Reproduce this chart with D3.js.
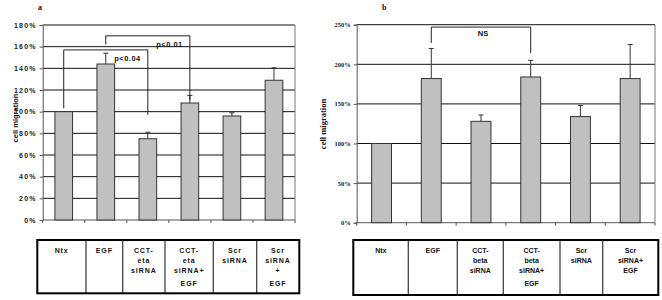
<!DOCTYPE html>
<html>
<head>
<meta charset="utf-8">
<script src="https://cdn.jsdelivr.net/npm/d3@7/dist/d3.min.js"></script>
<style>
  body { margin: 0; background: #fff; }
  svg { display: block; }
</style>
</head>
<body>
<svg id="chart" width="662" height="300"></svg>
<script>
// panel a data
const labelsA = [['Ntx'], ['EGF'], ['CCT-', 'eta', 'siRNA'], ['CCT-', 'eta', 'siRNA+', 'EGF'], ['Scr', 'siRNA'], ['Scr', 'siRNA', '+', 'EGF']];
const valuesA = [100, 144, 75, 108, 96, 129];
const errorsA = [0, 10, 6, 7, 3, 11.5];
const ticksA = [0, 20, 40, 60, 80, 100, 120, 140, 160, 180];
const bracketsA = [
  { from: 0, to: 2, top: 157, left: 103, right: 97, label: 'p<0.04' },
  { from: 1, to: 3, top: 170, left: 162, right: 111, label: 'p<0.01' }
];

// panel b data
const labelsB = [['Ntx'], ['EGF'], ['CCT-', 'beta', 'siRNA'], ['CCT-', 'beta', 'siRNA+', 'EGF'], ['Scr', 'siRNA'], ['Scr', 'siRNA+', 'EGF']];
const valuesB = [100, 182, 128, 184, 134, 182];
const errorsB = [0, 38, 8, 21, 14, 43];
const ticksB = [0, 50, 100, 150, 200, 250];
const bracketsB = [
  { from: 1, to: 3, top: 247, left: 227, right: 214, label: 'NS' }
];

const svg = d3.select('#chart');

function drawPanel(cfg) {
  const { labels, values, errors, ticks, brackets, lay } = cfg;
  const n = values.length;

  const x = d3.scaleBand()
    .domain(d3.range(n))
    .range([lay.left, lay.right]);
  const y = d3.scaleLinear()
    .domain([0, d3.max(ticks)])
    .range([lay.bottom, lay.top]);

  const g = svg.append('g');

  // gridlines
  g.selectAll('.grid')
    .data(ticks.filter(t => t > 0))
    .enter()
    .append('line')
    .attr('x1', lay.left).attr('x2', lay.right)
    .attr('y1', d => y(d)).attr('y2', d => y(d))
    .attr('stroke', '#111')
    .attr('stroke-width', 1);

  // right border
  g.append('line')
    .attr('x1', lay.right).attr('x2', lay.right)
    .attr('y1', lay.top).attr('y2', lay.bottom)
    .attr('stroke', '#777');

  // y axis
  const yAxis = g.append('g')
    .attr('transform', `translate(${lay.left},0)`)
    .call(d3.axisLeft(y).tickValues(ticks).tickSize(3).tickPadding(3).tickFormat(d => d + '%'));
  yAxis.select('.domain').attr('stroke', '#555');
  yAxis.selectAll('.tick line').attr('stroke', '#555');
  yAxis.selectAll('.tick text')
    .attr('fill', '#222')
    .style('font-family', lay.tickFont)
    .style('font-size', lay.tickSize)
    .style('font-weight', 'bold')
    .style('letter-spacing', lay.tickSpacing);

  // x axis (boundary ticks)
  g.append('line')
    .attr('x1', lay.left).attr('x2', lay.right)
    .attr('y1', lay.bottom).attr('y2', lay.bottom)
    .attr('stroke', '#555');
  g.selectAll('.xtick')
    .data(d3.range(n + 1))
    .enter()
    .append('line')
    .attr('x1', i => lay.left + i * x.step())
    .attr('x2', i => lay.left + i * x.step())
    .attr('y1', lay.bottom).attr('y2', lay.bottom + 3)
    .attr('stroke', '#555');

  const bw = x.bandwidth() * lay.barFrac;
  const cx = i => x(i) + x.bandwidth() / 2;

  // error bars (upper half only)
  const errs = values.map((v, i) => ({ v, e: errors[i], i })).filter(d => d.e > 0);
  g.selectAll('.err-stem')
    .data(errs)
    .enter()
    .append('line')
    .attr('x1', d => cx(d.i)).attr('x2', d => cx(d.i))
    .attr('y1', d => y(d.v)).attr('y2', d => y(d.v + d.e))
    .attr('stroke', '#333');
  g.selectAll('.err-cap')
    .data(errs)
    .enter()
    .append('line')
    .attr('x1', d => cx(d.i) - 2.5).attr('x2', d => cx(d.i) + 2.5)
    .attr('y1', d => y(d.v + d.e)).attr('y2', d => y(d.v + d.e))
    .attr('stroke', '#333');

  // bars
  g.selectAll('.bar')
    .data(values)
    .enter()
    .append('rect')
    .attr('x', (d, i) => cx(i) - bw / 2)
    .attr('y', d => y(d))
    .attr('width', bw)
    .attr('height', d => y(0) - y(d))
    .attr('fill', '#c0c0c0')
    .attr('stroke', '#333')
    .attr('stroke-width', 1);

  // brackets
  brackets.forEach(b => {
    const x1 = cx(b.from), x2 = cx(b.to);
    g.append('path')
      .attr('d', `M${x1},${y(b.left)}V${y(b.top)}H${x2}V${y(b.right)}`)
      .attr('fill', 'none')
      .attr('stroke', '#222')
      .attr('stroke-width', 1);
    g.append('text')
      .attr('x', x1 + (x2 - x1) * lay.bracketLabelAt)
      .attr('y', y(b.top) + lay.bracketLabelDy)
      .attr('text-anchor', lay.bracketAnchor)
      .style('font-family', 'Arial, "Liberation Sans", sans-serif')
      .style('font-size', '7.5px')
      .style('font-weight', 'bold')
      .style('letter-spacing', lay.bracketSpacing)
      .attr('fill', '#111')
      .text(b.label);
  });

  // y label
  g.append('text')
    .attr('transform', `translate(${lay.ylabelX},${lay.ylabelY}) rotate(-90)`)
    .attr('text-anchor', 'middle')
    .attr('dy', '0.35em')
    .style('font-family', lay.ylabelFont)
    .style('font-size', lay.ylabelSize)
    .style('font-weight', 'bold')
    .attr('fill', '#111')
    .text('cell migration');

  // panel title
  g.append('text')
    .attr('x', lay.titleX).attr('y', lay.titleY)
    .style('font-family', '"Liberation Serif", serif')
    .style('font-size', '8px')
    .style('font-weight', 'bold')
    .attr('fill', '#111')
    .text(lay.title);

  // table below
  const colX = d3.scaleLinear()
    .domain([0, d3.sum(lay.colWeights)])
    .range([lay.tableLeft, lay.tableRight]);
  const edges = [0, ...Array.from(d3.cumsum(lay.colWeights))];
  const t = g.append('g');
  t.selectAll('.div')
    .data(edges.slice(1, -1))
    .enter()
    .append('line')
    .attr('x1', d => colX(d)).attr('x2', d => colX(d))
    .attr('y1', lay.tableTop).attr('y2', lay.tableBottom)
    .attr('stroke', '#444')
    .attr('stroke-width', 1.3);
  t.append('rect')
    .attr('x', lay.tableLeft).attr('y', lay.tableTop)
    .attr('width', lay.tableRight - lay.tableLeft)
    .attr('height', lay.tableBottom - lay.tableTop)
    .attr('fill', 'none')
    .attr('stroke', '#000')
    .attr('stroke-width', 2);
  labels.forEach((lines, i) => {
    const mx = (colX(edges[i]) + colX(edges[i + 1])) / 2;
    const txt = t.append('text')
      .attr('text-anchor', 'middle')
      .style('font-family', 'Arial, "Liberation Sans", sans-serif')
      .style('font-size', '7px')
      .style('font-weight', 'bold')
      .style('letter-spacing', lay.tableSpacing)
      .attr('fill', '#111');
    lines.forEach((s, j) => {
      txt.append('tspan')
        .attr('x', mx)
        .attr('y', lay.tableTop + 13 + j * 10 + (j === 3 ? 2.5 : 0))
        .text(s);
    });
  });
}

drawPanel({
  labels: labelsA, values: valuesA, errors: errorsA, ticks: ticksA, brackets: bracketsA,
  lay: {
    left: 42.7, right: 295, top: 25, bottom: 220, barFrac: 0.42,
    tickFont: 'Arial, "Liberation Sans", sans-serif', tickSize: '7px', tickSpacing: '1.2px',
    ylabelX: 15, ylabelY: 118, ylabelFont: 'Arial, "Liberation Sans", sans-serif', ylabelSize: '7.5px',
    title: 'a', titleX: 38, titleY: 10,
    bracketLabelAt: 0.6, bracketLabelDy: 11, bracketAnchor: 'start', bracketSpacing: '0.5px',
    tableLeft: 37.3, tableRight: 299.3, tableTop: 240, tableBottom: 293.3,
    colWeights: [48.7, 36.7, 42.3, 48.3, 43.4, 42.6], tableSpacing: '0.9px'
  }
});

drawPanel({
  labels: labelsB, values: valuesB, errors: errorsB, ticks: ticksB, brackets: bracketsB,
  lay: {
    left: 356.7, right: 655, top: 24.7, bottom: 222.7, barFrac: 0.4,
    tickFont: '"Liberation Serif", serif', tickSize: '6.5px', tickSpacing: '0px',
    ylabelX: 323.3, ylabelY: 124, ylabelFont: '"Liberation Serif", serif', ylabelSize: '8.5px',
    title: 'b', titleX: 382, titleY: 10,
    bracketLabelAt: 0.52, bracketLabelDy: 9, bracketAnchor: 'middle', bracketSpacing: '0px',
    tableLeft: 353.3, tableRight: 658.3, tableTop: 240, tableBottom: 295,
    colWeights: [55, 49, 46, 56.7, 42.7, 55.6], tableSpacing: '0px'
  }
});
</script>
</body>
</html>
